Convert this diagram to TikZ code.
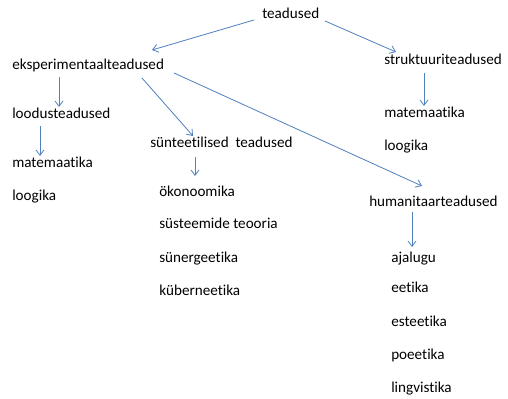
\documentclass[tikz,border=0pt]{standalone}
\usepackage{fontspec}
\setmainfont{Carlito}[Ligatures={NoCommon}]
\usetikzlibrary{arrows.meta,calc}
\definecolor{arrowblue}{RGB}{79,129,189}
\tikzset{
  lbl/.style={anchor=base west, inner sep=0pt, font=\fontsize{11.35pt}{13pt}\selectfont},
  arr/.style={draw=arrowblue, line width=0.6pt, -{Straight Barb[length=4pt,width=6pt]}}
}
\begin{document}
\begin{tikzpicture}[x=0.75pt,y=-0.75pt]
\useasboundingbox (0,0) rectangle (508,399);
\fill[white] (0,0) rectangle (508,399);
\node[lbl] (t) at (262,19) {teadused};
\node[lbl] (e) at (12,70) {eksperimentaalteadused};
\node[lbl] (s) at (384,65) {struktuuriteadused};
\node[lbl] (l) at (12,119) {loodusteadused};
\node[lbl] (m1) at (12,168) {matemaatika};
\node[lbl] (g1) at (12,201) {loogika};
\node[lbl] (sy) at (150,148) {sünteetilised\ \ teadused};
\node[lbl] (o) at (159,197) {ökonoomika};
\node[lbl] (st) at (159,229) {süsteemide teooria};
\node[lbl] (sn) at (159,263) {sünergeetika};
\node[lbl] (k) at (159,296) {küberneetika};
\node[lbl] (m2) at (384,118) {matemaatika};
\node[lbl] (g2) at (384,151) {loogika};
\node[lbl] (h) at (369,207) {humanitaarteadused};
\node[lbl] (a) at (391,263) {ajalugu};
\node[lbl] (et) at (391,293) {eetika};
\node[lbl] (es) at (391,327) {esteetika};
\node[lbl] (p) at (391,360) {poeetika};
\node[lbl] (li) at (391,393) {lingvistika};

\draw[arr] ($(t.base west)+(-8,1)$) -- ($(e.base west)+(140,-20)$);
\draw[arr] ($(t.base west)+(63,2)$) -- ($(s.base west)+(12,-13)$);
\draw[arr] ($(e.base west)+(47,7)$) -- ($(l.base west)+(47,-12)$);
\draw[arr] ($(l.base west)+(28,7)$) -- ($(m1.base west)+(28,-12)$);
\draw[arr] ($(e.base west)+(130,8)$) -- ($(sy.base west)+(43,-12)$);
\draw[arr] ($(e.base west)+(162,3)$) -- ($(h.base west)+(53,-21)$);
\draw[arr] ($(sy.base west)+(45,9)$) -- ($(o.base west)+(36,-21)$);
\draw[arr] ($(s.base west)+(40,8)$) -- ($(m2.base west)+(40,-12)$);
\draw[arr] ($(h.base west)+(43,5)$) -- ($(a.base west)+(21,-16)$);
\end{tikzpicture}
\end{document}
